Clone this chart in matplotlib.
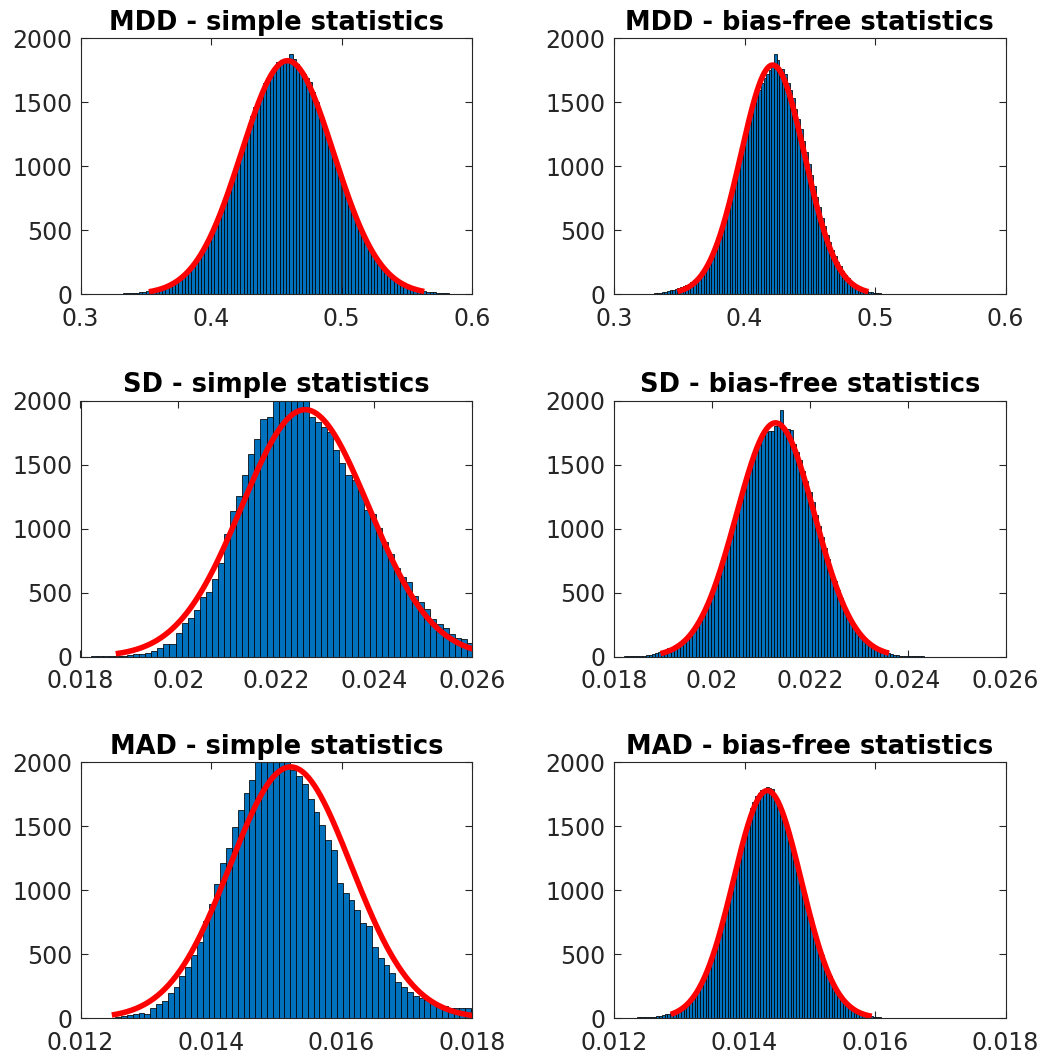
import numpy as np
import matplotlib
matplotlib.use("Agg")
import matplotlib.pyplot as plt

plt.rcParams['font.family'] = ['DejaVu Sans']

# ---------------- data ----------------
titles = ["MDD - simple statistics", "MDD - bias-free statistics",
          "SD - simple statistics", "SD - bias-free statistics",
          "MAD - simple statistics", "MAD - bias-free statistics"]

# histogram bin start and bin width per panel
mdd_simple_start, mdd_simple_w = 0.315, 0.0025
mdd_simple_counts = [1, 2, 2, 3, 4, 4, 5, 7, 8, 10, 12, 14, 17, 20, 24,
                     28, 31, 36, 42, 50, 58, 70, 83, 98, 115, 138, 160, 186, 214, 248,
                     288, 330, 372, 425, 478, 540, 598, 668, 735, 806, 870, 955, 1050, 1135, 1215,
                     1300, 1395, 1460, 1520, 1580, 1650, 1690, 1735, 1772, 1815, 1830, 1832,
                     1830, 1880, 1840, 1800, 1760, 1725,
                     1690, 1660, 1580, 1500, 1405, 1320, 1255, 1180, 1095, 1010, 945, 872,
                     800, 728, 660, 590, 530, 480, 425, 378, 340, 300, 260, 222, 190, 165, 140, 118,
                     100, 85, 72, 60, 50, 42, 35, 30, 25, 21, 18, 16, 13, 11, 9, 8, 6, 5, 4, 3, 2, 1]

mdd_free_start, mdd_free_w = 0.3126, 0.002
mdd_free_counts = [1, 1, 1, 2, 2, 3, 3, 4, 5, 7, 9, 12, 16,
                   20, 25, 30, 36, 42, 48, 55, 62, 72, 82, 95, 110,
                   128, 150, 175, 205, 240, 280, 322, 370, 425, 485,
                   550, 620, 695, 770, 850, 935, 1020, 1105, 1190, 1270,
                   1350, 1420, 1500, 1560, 1600, 1650, 1690, 1720, 1750,
                   1790, 1875, 1830, 1760, 1758, 1720, 1650, 1600, 1530, 1450, 1370,
                   1290, 1195, 1110, 1020, 930, 845, 760, 680, 600, 530,
                   465, 405, 350, 300, 255, 218, 182, 150, 124, 100,
                   82, 66, 52, 42, 33, 26, 20, 15, 12, 10, 8, 6, 5, 3, 2]

sd_simple_start, sd_simple_w = 0.018206, 0.000124
sd_simple_counts = [2, 3, 4, 5, 7, 9, 13, 18, 24,
                    30, 45, 65, 100, 100,
                    188, 267, 300, 363, 470, 502, 606, 729, 957, 1135, 1252, 1422, 1582, 1699, 1859, 1874,
                    2050, 2110, 2160, 2140, 2090, 2030,
                    1872, 1830, 1796, 1754, 1618, 1513, 1422, 1383, 1294, 1148, 1111, 1006, 894, 802,
                    690, 625, 580, 476, 429, 371, 293, 259, 222, 175, 146, 136, 105, 90, 70]

sd_free_start, sd_free_w = 0.018068, 0.000064
sd_free_counts = [1, 1, 2, 2, 3, 4, 5, 7, 9, 12,
                  16, 21, 27, 34, 42, 52, 65, 78, 90, 100,
                  115, 126, 150, 178, 210, 246, 288, 335, 386, 445,
                  505, 572, 645, 720, 800, 885, 970, 1060, 1150, 1235,
                  1320, 1400, 1490, 1570, 1640, 1700, 1745, 1755, 1760, 1760,
                  1800, 1830, 1925, 1790, 1780, 1770, 1660, 1600, 1540, 1450, 1370,
                  1290, 1210, 1110, 1020, 935, 850, 760, 670, 590, 520,
                  455, 395, 340, 290, 248, 210, 176, 146, 120, 98,
                  80, 64, 52, 42, 33, 26, 20, 16, 12, 9,
                  7, 5, 4, 3, 3, 2, 2, 1, 1, 1]

mad_simple_start, mad_simple_w = 0.012353, 0.0000894
mad_simple_counts = [3, 5, 8,
                     15, 26, 36, 41, 34, 80, 111, 137, 197, 244, 334, 399, 495, 598, 762, 891,
                     1052, 1215, 1329, 1498, 1630, 1764, 1860,
                     2040, 2090, 2130, 2110, 2070, 2020,
                     1940, 1890, 1834, 1713, 1609, 1513, 1394, 1316, 1060, 979, 928, 845, 741, 720,
                     560, 469, 417, 352, 280, 241, 205, 176, 158, 140, 119, 106, 93, 80, 80, 80,
                     78, 70, 60]

mad_free_start, mad_free_w = 0.012145, 0.000042
mad_free_counts = [1, 2, 3, 4, 6, 8, 9, 10, 11, 12,
                   11, 14, 17, 20, 25, 30, 37, 44, 53, 64,
                   76, 90, 108, 128, 152, 180, 212, 248, 285, 330,
                   380, 435, 495, 560, 630, 705, 785, 860, 940, 1020,
                   1110, 1200, 1300, 1390, 1480, 1560, 1640, 1690, 1740, 1760, 1780, 1790,
                   1805, 1800, 1795, 1720, 1680, 1640, 1580, 1520, 1450, 1375, 1290,
                   1205, 1120, 1035, 950, 865, 785, 705, 630, 560, 495,
                   434, 378, 328, 282, 240, 204, 172, 144, 120, 100,
                   82, 67, 55, 44, 35, 28, 22, 17, 13, 10,
                   8, 6, 4, 3, 3, 2, 2, 1, 1, 1]

# normal fit curves: (mean, sigma, peak height, x start, x end)
fit_mdd_simple = (0.4586, 0.0353, 1825, 0.3524, 0.5634)
fit_mdd_free = (0.4216, 0.0245, 1791, 0.3486, 0.4949)
fit_sd_simple = (0.02259, 0.0013, 1930, 0.01872, 0.0262)
fit_sd_free = (0.0213, 0.0008, 1827, 0.01895, 0.02362)
fit_mad_simple = (0.01522, 0.00093, 1964, 0.01248, 0.0182)
fit_mad_free = (0.01435, 0.00052, 1779, 0.01287, 0.01595)

xticks_mdd = [0.3, 0.4, 0.5, 0.6]
xlabels_mdd = ["0.3", "0.4", "0.5", "0.6"]
xticks_sd = [0.018, 0.02, 0.022, 0.024, 0.026]
xlabels_sd = ["0.018", "0.02", "0.022", "0.024", "0.026"]
xticks_mad = [0.012, 0.014, 0.016, 0.018]
xlabels_mad = ["0.012", "0.014", "0.016", "0.018"]
yticks = [0, 500, 1000, 1500, 2000]
ylabels = ["0", "500", "1000", "1500", "2000"]

panels = [
    (mdd_simple_start, mdd_simple_w, mdd_simple_counts, fit_mdd_simple, xticks_mdd, xlabels_mdd),
    (mdd_free_start, mdd_free_w, mdd_free_counts, fit_mdd_free, xticks_mdd, xlabels_mdd),
    (sd_simple_start, sd_simple_w, sd_simple_counts, fit_sd_simple, xticks_sd, xlabels_sd),
    (sd_free_start, sd_free_w, sd_free_counts, fit_sd_free, xticks_sd, xlabels_sd),
    (mad_simple_start, mad_simple_w, mad_simple_counts, fit_mad_simple, xticks_mad, xlabels_mad),
    (mad_free_start, mad_free_w, mad_free_counts, fit_mad_free, xticks_mad, xlabels_mad),
]

# ---------------- figure ----------------
W, H = 1043, 1054
fig = plt.figure(figsize=(W / 100, H / 100), dpi=100)
fig.patch.set_facecolor("white")

col_left = [80.5 / W, 614.0 / W]
ax_w = 391.5 / W
row_top = [38.3, 400.7, 762.3]
ax_h = 256.0 / H

GRAY = "#262626"
for idx, (start, w, counts, fit, xt, xl) in enumerate(panels):
    r, c = divmod(idx, 2)
    bottom = 1 - (row_top[r] + 256.0) / H
    ax = fig.add_axes([col_left[c], bottom, ax_w, ax_h])
    counts = np.asarray(counts, dtype=float)
    edges = start + w * np.arange(len(counts))
    ax.bar(edges, counts, width=w, align="edge", color="#0072BD",
           edgecolor="black", linewidth=0.55, zorder=2)
    mu, sg, pk, x0, x1 = fit
    xs = np.linspace(x0, x1, 400)
    ax.plot(xs, pk * np.exp(-0.5 * ((xs - mu) / sg) ** 2), color="#FF0000",
            lw=4.0, zorder=3, solid_capstyle="butt")
    ax.set_xlim(xt[0], xt[-1])
    ax.set_ylim(0, 2000)
    ax.set_xticks(xt)
    ax.set_xticklabels(xl)
    ax.set_yticks(yticks)
    ax.set_yticklabels(ylabels)
    ax.tick_params(direction="in", top=True, right=True, length=5, width=0.8,
                   color=GRAY, labelsize=17, labelcolor=GRAY)
    ax.tick_params(axis="x", pad=9)
    ax.tick_params(axis="y", pad=6)
    for s in ax.spines.values():
        s.set_color(GRAY)
        s.set_linewidth(0.8)
        s.set_zorder(5)
    ax.set_title(titles[idx], fontsize=18.5, fontweight="bold", color="black", pad=6)

fig.savefig("out.png", dpi=100, facecolor="white")
